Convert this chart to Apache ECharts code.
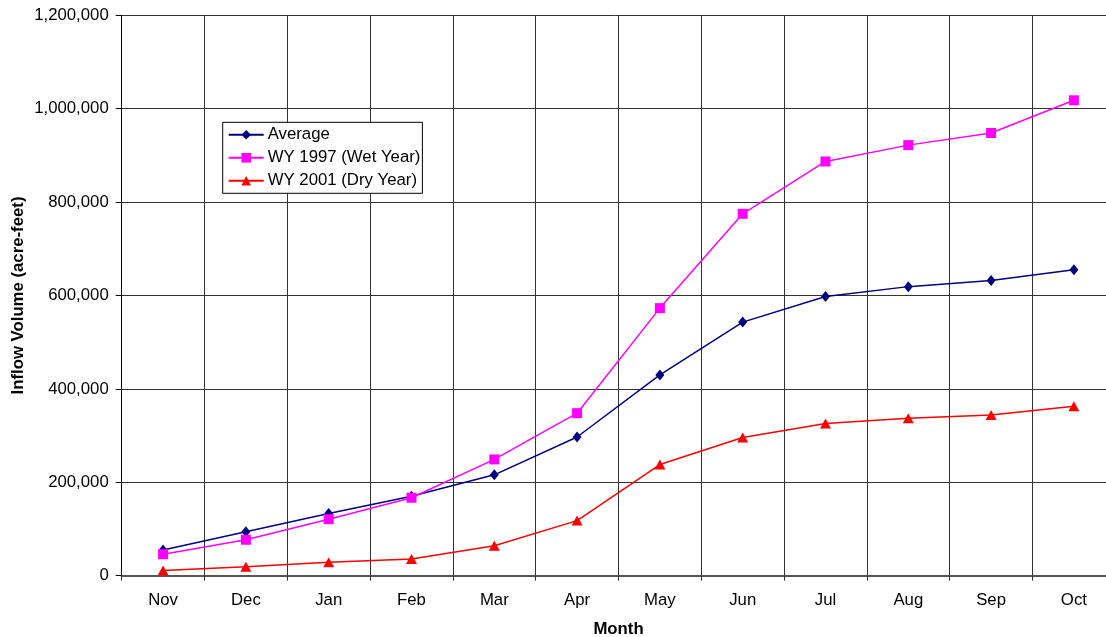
<!DOCTYPE html>
<html>
<head>
<meta charset="utf-8">
<script src="https://cdn.jsdelivr.net/npm/echarts@6/dist/echarts.min.js"></script>
<style>
html,body{margin:0;padding:0;background:#fff;}
#chart{width:1106px;height:637px;}
</style>
</head>
<body>
<div id="chart"></div>
<script>
const months = ['Nov','Dec','Jan','Feb','Mar','Apr','May','Jun','Jul','Aug','Sep','Oct'];
const averageVals = [55000, 94000, 133000, 170000, 216000, 297000, 430000, 543000, 598000, 619000, 632000, 655000];
const wetVals = [46000, 77000, 121000, 167000, 249000, 348000, 573000, 775000, 887000, 922000, 948000, 1018000];
const dryVals = [11000, 19000, 29000, 36000, 64000, 118000, 238000, 296000, 326000, 337000, 344000, 363000];
const seriesNames = ['Average', 'WY 1997 (Wet Year)', 'WY 2001 (Dry Year)'];

const FONT = "'Liberation Sans', Arial, sans-serif";
const FS = 16.75;
const chart = echarts.init(document.getElementById('chart'));
chart.setOption({
  animation: false,
  backgroundColor: '#fff',
  textStyle: { fontFamily: FONT },
  grid: { left: 121.7, top: 15.3, right: -9.3, bottom: 61.3, containLabel: false, outerBoundsMode: 'none' },
  legend: {
    orient: 'vertical',
    left: 222.7,
    top: 122.3,
    padding: [4, 2, 4, 5],
    itemWidth: 35,
    itemHeight: 12,
    itemGap: 6,
    backgroundColor: '#fff',
    borderColor: '#000',
    borderWidth: 1,
    borderRadius: 0,
    textStyle: { fontFamily: FONT, fontSize: FS, color: '#000', padding: [0, 0, 0, -1] },
    data: seriesNames
  },
  xAxis: {
    type: 'category',
    data: months,
    boundaryGap: true,
    name: 'Month',
    nameLocation: 'middle',
    nameGap: 45,
    nameMoveOverlap: false,
    nameTextStyle: { fontFamily: FONT, fontSize: FS, fontWeight: 'bold', color: '#000' },
    axisLine: { lineStyle: { color: '#555', width: 2 } },
    axisTick: { show: true, length: 5, lineStyle: { color: '#333', width: 1 } },
    axisLabel: { fontFamily: FONT, fontSize: FS, color: '#000', margin: 16 },
    splitLine: { show: true, lineStyle: { color: '#333', width: 1 } }
  },
  yAxis: {
    type: 'value',
    min: 0,
    max: 1200000,
    interval: 200000,
    name: 'Inflow Volume (acre-feet)',
    nameLocation: 'middle',
    nameGap: 95,
    nameMoveOverlap: false,
    nameTextStyle: { fontFamily: FONT, fontSize: FS, fontWeight: 'bold', color: '#000' },
    axisLine: { show: true, lineStyle: { color: '#000', width: 1 } },
    axisTick: { show: true, length: 6, lineStyle: { color: '#000', width: 1 } },
    axisLabel: {
      fontFamily: FONT, fontSize: FS, color: '#000', margin: 13,
      formatter: v => v.toLocaleString('en-US')
    },
    splitLine: { show: true, lineStyle: { color: '#333', width: 1 } }
  },
  series: [
    {
      name: seriesNames[0], type: 'line', data: averageVals,
      symbol: 'diamond', symbolSize: [9, 11], showAllSymbol: true,
      itemStyle: { color: '#000080' },
      lineStyle: { color: '#000080', width: 1.5 }
    },
    {
      name: seriesNames[1], type: 'line', data: wetVals,
      symbol: 'rect', symbolSize: 10, showAllSymbol: true,
      itemStyle: { color: '#FF00FF' },
      lineStyle: { color: '#FF00FF', width: 1.5 }
    },
    {
      name: seriesNames[2], type: 'line', data: dryVals,
      symbol: 'triangle', symbolSize: [11, 10], showAllSymbol: true,
      itemStyle: { color: '#FF0000' },
      lineStyle: { color: '#FF0000', width: 1.5 }
    }
  ]
});
</script>
</body>
</html>
